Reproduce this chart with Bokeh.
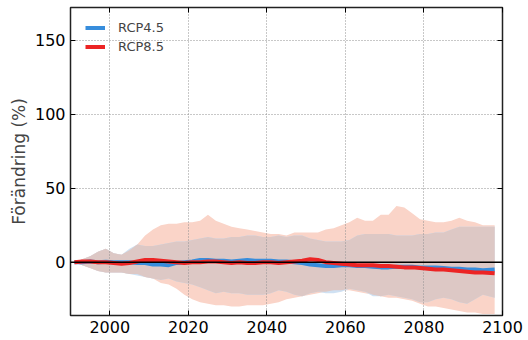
import numpy as np
from bokeh.plotting import figure
from bokeh.models import (ColumnDataSource, Span, FixedTicker, LinearAxis,
                          Range1d, Legend, LegendItem)
from bokeh.embed import file_html
from bokeh.resources import INLINE

# ---------------- data ----------------
years = [1991, 1993, 1995, 1997, 1999, 2001, 2003, 2005, 2007, 2009,
         2011, 2013, 2015, 2017, 2019, 2021, 2023, 2025, 2027, 2029,
         2031, 2033, 2035, 2037, 2039, 2041, 2043, 2045, 2047, 2049,
         2051, 2053, 2055, 2057, 2059, 2061, 2063, 2065, 2067, 2069,
         2071, 2073, 2075, 2077, 2079, 2081, 2083, 2085, 2087, 2089,
         2091, 2093, 2095, 2098]

rcp85_hi = [0, 2, 4, 7, 9, 6, 5, 8, 12, 18,
            22, 25, 26, 26, 27, 27, 28, 32, 28, 26,
            24, 23, 22, 21, 20, 19, 19, 18, 20, 20,
            20, 20, 22, 23, 25, 27, 30, 28, 28, 32,
            32, 38, 37, 33, 29, 28, 27, 27, 28, 30,
            28, 27, 25, 25]
rcp85_lo = [0, -2, -4, -6, -7, -7, -7, -8, -8, -10,
            -11, -14, -15, -18, -22, -25, -27, -28, -29, -29,
            -30, -30, -29, -29, -29, -28, -27, -25, -24, -23,
            -22, -21, -20, -19, -19, -19, -20, -21, -22, -23,
            -24, -24, -25, -26, -28, -30, -30, -31, -32, -33,
            -34, -34, -35, -35]
rcp45_hi = [0, 2, 4, 7, 9, 6, 5, 9, 12, 11,
            11, 12, 13, 14, 14, 15, 16, 17, 16, 16,
            17, 17, 18, 18, 17, 17, 18, 17, 18, 18,
            16, 15, 14, 14, 14, 15, 18, 19, 19, 19,
            19, 18, 18, 18, 19, 19, 20, 20, 22, 24,
            24, 24, 24, 24]
rcp45_lo = [0, -2, -4, -6, -7, -7, -7, -8, -9, -10,
            -11, -12, -11, -13, -14, -15, -17, -19, -21, -20,
            -21, -21, -22, -22, -22, -21, -19, -20, -22, -23,
            -21, -20, -21, -21, -20, -18, -19, -20, -23, -23,
            -22, -23, -24, -25, -27, -27, -25, -24, -25, -27,
            -28, -25, -22, -24]
rcp85_med = [0, 0.5, 0.5, 0, 0, -0.5, -1, -0.5, 0.5, 1.5,
             1.5, 1, 0.5, 0, -0.5, 0, 0, 0.5, 0.5, 0,
             -0.5, 0, -0.5, -0.5, 0, 0, -0.5, 0, 0.5, 1,
             2, 1.5, 0, -0.5, -1, -1.5, -2, -2, -2, -2.5,
             -2.5, -3, -3.5, -3.5, -4, -4.5, -5, -5, -5.5, -6,
             -6.5, -7, -7, -7.5]
rcp45_med = [0, 0, 0.5, 0, 0.3, 0, 0, 0, -0.5, -0.5,
             -1.5, -1.5, -2, -0.5, 0, 0.5, 1.5, 1.5, 1, 1,
             0.5, 1, 1.5, 1, 1, 1, 0.5, 0.5, 0, -0.5,
             -1.5, -2, -2.5, -2.5, -2, -2, -2.5, -2.5, -3, -3.5,
             -3.5, -3, -3, -3, -3.5, -3.5, -3.5, -4, -4.5, -4.5,
             -5, -5, -5.5, -5]

x_ticks = [2000, 2020, 2040, 2060, 2080, 2100]
y_ticks = [0, 50, 100, 150]
series_names = ["RCP4.5", "RCP8.5"]
y_label = "Förändring (%)"

# ---------------- styling ----------------
FONT = "DejaVu Sans"
BLUE = "#378ddc"
RED = "#ec2424"
SALMON = "#fad4c8"
LIGHTBLUE = "#cfe1f3"
OVERLAP = "#ddc8c5"

src = ColumnDataSource(dict(
    x=years,
    r_hi=rcp85_hi, r_lo=rcp85_lo,
    b_hi=rcp45_hi, b_lo=rcp45_lo,
    o_hi=np.minimum(rcp85_hi, rcp45_hi),
    o_lo=np.maximum(rcp85_lo, rcp45_lo),
    r_med=rcp85_med, b_med=rcp45_med,
))

p = figure(width=528, height=340, output_backend="svg", toolbar_location=None,
           x_range=Range1d(1990, 2100), y_range=Range1d(-36, 172),
           min_border_left=70, min_border_right=26, min_border_top=7,
           min_border_bottom=25)
p.background_fill_color = "white"
p.border_fill_color = "white"
p.outline_line_color = "#222222"
p.outline_line_width = 1.5

r1 = p.varea(x="x", y1="r_lo", y2="r_hi", source=src, fill_color=SALMON)
r2 = p.varea(x="x", y1="b_lo", y2="b_hi", source=src, fill_color=LIGHTBLUE)
r3 = p.varea(x="x", y1="o_lo", y2="o_hi", source=src, fill_color=OVERLAP)
for r in (r1, r2, r3):
    r.level = "image"

lb = p.line(x="x", y="b_med", source=src, line_color=BLUE, line_width=4)
lr = p.line(x="x", y="r_med", source=src, line_color=RED, line_width=4)

p.add_layout(Span(location=0, dimension="width", line_color="black",
                  line_width=1.5))

# axes
for ax in (p.xaxis[0], p.yaxis[0]):
    ax.axis_line_color = None
    ax.major_tick_in = 5
    ax.major_tick_out = 0
    ax.minor_tick_line_color = None
    ax.major_tick_line_color = "black"
    ax.major_label_text_font = FONT
    ax.major_label_text_font_size = "16px"
    ax.major_label_text_color = "black"
p.xaxis.ticker = FixedTicker(ticks=x_ticks)
p.yaxis.ticker = FixedTicker(ticks=y_ticks)
p.xaxis.major_label_standoff = 5
p.yaxis.major_label_standoff = 5
p.yaxis.axis_label = y_label
p.yaxis.axis_label_text_font = FONT
p.yaxis.axis_label_text_font_size = "17px"
p.yaxis.axis_label_text_font_style = "normal"
p.yaxis.axis_label_standoff = 3

top = LinearAxis(ticker=FixedTicker(ticks=x_ticks), axis_line_color=None,
                 major_tick_in=5, major_tick_out=0, minor_tick_line_color=None,
                 major_label_text_color=None, major_label_text_font_size="1px",
                 major_label_standoff=0)
right = LinearAxis(ticker=FixedTicker(ticks=y_ticks), axis_line_color=None,
                   major_tick_in=5, major_tick_out=0, minor_tick_line_color=None,
                   major_label_text_color=None, major_label_text_font_size="1px",
                   major_label_standoff=0)
p.add_layout(top, "above")
p.add_layout(right, "right")

for g in (p.xgrid[0], p.ygrid[0]):
    g.grid_line_color = "#909090"
    g.grid_line_dash = "1 2"
    g.grid_line_width = 1

legend = Legend(items=[LegendItem(label=series_names[0], renderers=[lb]),
                       LegendItem(label=series_names[1], renderers=[lr])],
                location=(15, 259), padding=0, margin=0, spacing=0,
                label_height=19, glyph_height=19, glyph_width=20,
                label_standoff=13, border_line_color=None,
                background_fill_alpha=0,
                label_text_font=FONT, label_text_font_size="13px")
p.add_layout(legend, "center")

open("out.html", "w").write(file_html(p, INLINE))
